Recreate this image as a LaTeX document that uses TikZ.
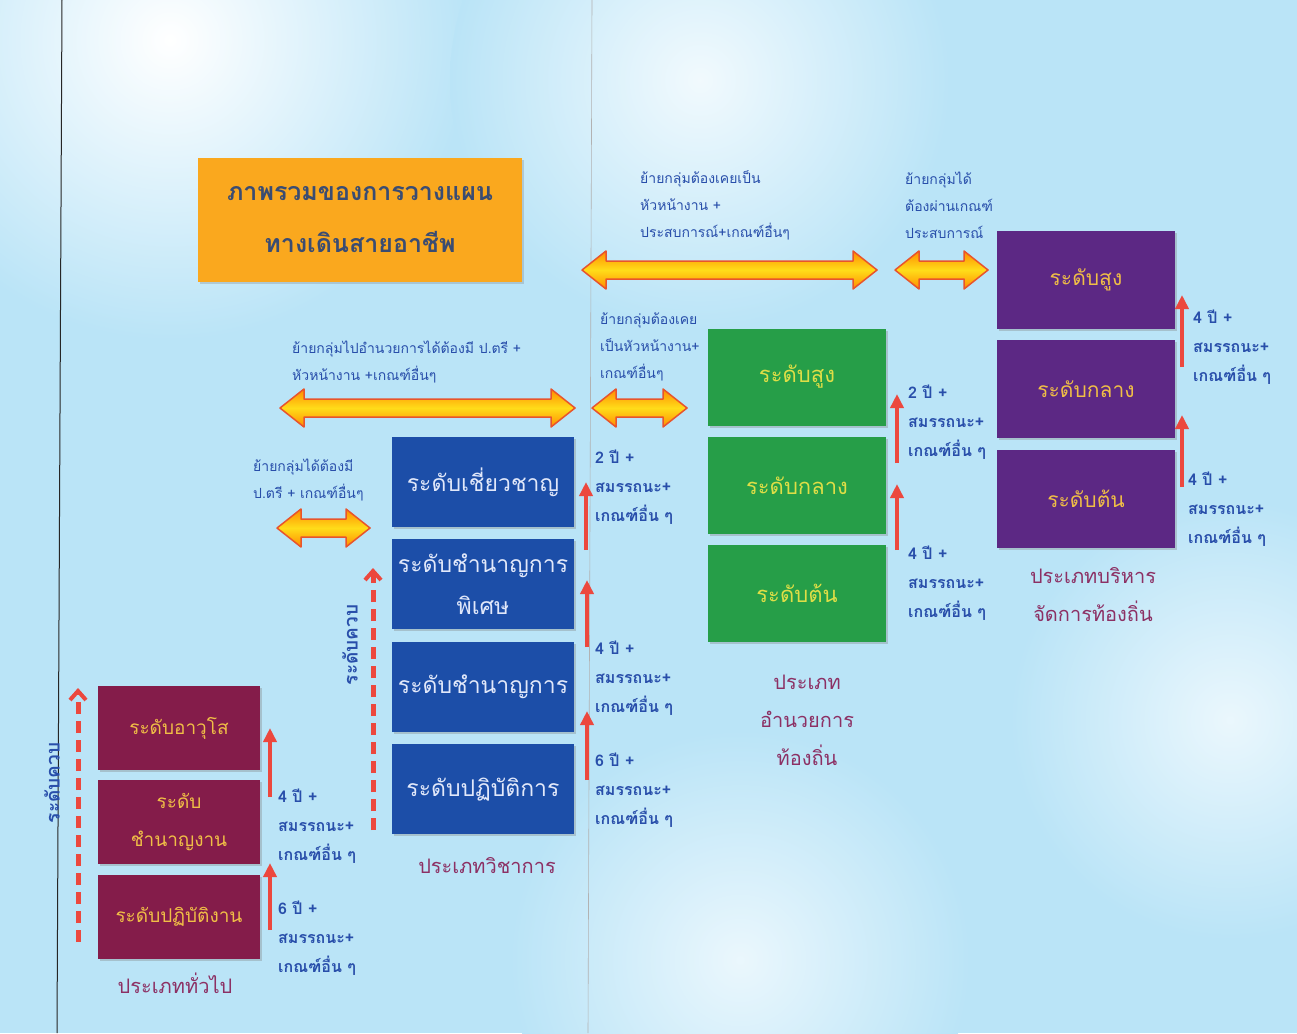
\documentclass[tikz,border=0pt]{standalone}
\usepackage{fontspec}
\setmainfont[Script=Thai]{Loma}
\usepackage{xcolor}
\usetikzlibrary{arrows.meta}
\usetikzlibrary{positioning}
\usetikzlibrary{shadows}

\definecolor{bgblue}{RGB}{186,228,247}
\definecolor{maroonbox}{RGB}{132,28,74}
\definecolor{bluebox}{RGB}{28,78,168}
\definecolor{greenbox}{RGB}{38,158,72}
\definecolor{purplebox}{RGB}{92,40,132}
\definecolor{goldtext}{RGB}{240,190,70}
\definecolor{yellowtext}{RGB}{222,222,70}
\definecolor{paletext}{RGB}{225,232,250}
\definecolor{labelblue}{RGB}{40,78,170}
\definecolor{typecolor}{RGB}{140,48,100}
\definecolor{titletext}{RGB}{58,76,114}
\definecolor{titlebox}{RGB}{250,168,30}
\definecolor{stepred}{RGB}{236,72,62}
\definecolor{fatedge}{RGB}{232,84,44}

% fat double arrow: left x, right x, height
\newcommand{\fatarrow}[3]{%
  \draw[fatstyle] (#1,#3) -- (#1+24,#3-19) -- (#1+24,#3-9) -- (#2-24,#3-9) -- (#2-24,#3-19) -- (#2,#3)
    -- (#2-24,#3+19) -- (#2-24,#3+9) -- (#1+24,#3+9) -- (#1+24,#3+19) -- cycle;}

\begin{document}
\begin{tikzpicture}[x=1pt, y=-1pt,
  levelbox/.style={align=center, inner sep=2pt,
    drop shadow={shadow xshift=2pt, shadow yshift=-2pt, opacity=0.35}},
  genbox/.style={levelbox, fill=maroonbox, text=goldtext, minimum width=162pt, minimum height=84pt,
    font=\fontsize{19}{38}\selectfont},
  acbox/.style={levelbox, fill=bluebox, text=paletext, minimum width=182pt, minimum height=90pt,
    font=\fontsize{23}{42}\selectfont},
  dirbox/.style={levelbox, fill=greenbox, text=yellowtext, minimum width=178pt, minimum height=97pt,
    font=\fontsize{22}{38}\selectfont},
  mgrbox/.style={levelbox, fill=purplebox, text=goldtext, minimum width=178pt, minimum height=98pt,
    font=\fontsize{21}{38}\selectfont},
  titlestyle/.style={fill=titlebox, minimum width=324pt, minimum height=124pt, align=center,
    text=titletext, font=\bfseries\fontsize{25}{52}\selectfont,
    drop shadow={shadow xshift=2pt, shadow yshift=-2pt, opacity=0.3}},
  movetext/.style={anchor=west, align=left, text=labelblue, inner sep=0pt,
    font=\fontsize{14}{27}\selectfont},
  steptext/.style={anchor=west, align=left, text=labelblue, inner sep=0pt,
    font=\bfseries\fontsize{16}{29}\selectfont},
  typetext/.style={align=center, text=typecolor, font=\fontsize{20}{38}\selectfont},
  dualtext/.style={rotate=90, text=labelblue, font=\bfseries\fontsize{19}{20}\selectfont},
  steparrow/.style={-{Triangle[length=14pt,width=13pt]}, line width=4pt, stepred},
  dualarrow/.style={-{Straight Barb[length=9pt,width=16pt,line width=4pt]}, line width=5pt, stepred,
    dash pattern=on 12pt off 7pt},
  fatstyle/.style={draw=fatedge, line width=1.5pt, line join=round,
    top color=orange!90!yellow, bottom color=orange!90!yellow, middle color=yellow!70!orange!90!white}]

% background
\useasboundingbox (0,0) rectangle (1297,1033);
\fill[bgblue] (0,0) rectangle (1297,1033);
\shade[inner color=white, outer color=bgblue] (170,40) circle (300);
\shade[inner color=white!80!bgblue, outer color=bgblue] (700,80) circle (250);
\shade[inner color=white!70!bgblue, outer color=bgblue] (1230,720) circle (220);
\shade[inner color=white!70!bgblue, outer color=bgblue] (740,960) circle (230);
\draw[black!85, line width=1pt] (62,0) -- (57,1033);
\draw[gray!60, line width=0.6pt] (592,0) -- (588,1033);

% title
\node[titlestyle] (title) at (360,220) {ภาพรวมของการวางแผน\\ทางเดินสายอาชีพ};

% general group
\node[genbox] (gen3) at (179,728) {ระดับอาวุโส};
\node[genbox, below=10pt of gen3] (gen2) {ระดับ\\ชำนาญงาน};
\node[genbox, below=10pt of gen2] (gen1) {ระดับปฏิบัติงาน};
\node[typetext] (gentype) at (175,983) {ประเภททั่วไป};

% academic group
\node[acbox] (ac4) at (483,482) {ระดับเชี่ยวชาญ};
\node[acbox, below=12pt of ac4] (ac3) {ระดับชำนาญการ\\พิเศษ};
\node[acbox, below=12pt of ac3] (ac2) {ระดับชำนาญการ};
\node[acbox, below=12pt of ac2] (ac1) {ระดับปฏิบัติการ};
\node[typetext] (actype) at (487,866) {ประเภทวิชาการ};

% director group
\node[dirbox] (dir3) at (797,377) {ระดับสูง};
\node[dirbox, below=11pt of dir3] (dir2) {ระดับกลาง};
\node[dirbox, below=11pt of dir2] (dir1) {ระดับต้น};
\node[typetext] (dirtype) at (807,720) {ประเภท\\อำนวยการ\\ท้องถิ่น};

% manager group
\node[mgrbox] (mgr3) at (1086,280) {ระดับสูง};
\node[mgrbox, below=11pt of mgr3] (mgr2) {ระดับกลาง};
\node[mgrbox, below=11pt of mgr2] (mgr1) {ระดับต้น};
\node[typetext] (mgrtype) at (1093,595) {ประเภทบริหาร\\จัดการท้องถิ่น};

% dual track arrows
\draw[dualarrow] (78,942) coordinate (gdual0) -- (78,688) coordinate (gdual1);
\node[dualtext] (gdualtext) at (52,783) {ระดับควบ};
\draw[dualarrow] (373,830) coordinate (adual0) -- (373,568) coordinate (adual1);
\node[dualtext] (adualtext) at (350,645) {ระดับควบ};

% step arrows
\draw[steparrow] (270,797) coordinate (g2a) -- (270,728) coordinate (g2b);
\draw[steparrow] (270,930) coordinate (g1a) -- (270,863) coordinate (g1b);
\node[steptext] (g2text) at (278,826) {4 ปี +\\สมรรถนะ+\\เกณฑ์อื่น ๆ};
\node[steptext] (g1text) at (278,938) {6 ปี +\\สมรรถนะ+\\เกณฑ์อื่น ๆ};

\draw[steparrow] (586,550) coordinate (a3a) -- (586,482) coordinate (a3b);
\draw[steparrow] (587,647) coordinate (a2a) -- (587,580) coordinate (a2b);
\draw[steparrow] (587,780) coordinate (a1a) -- (587,711) coordinate (a1b);
\node[steptext] (a3text) at (595,487) {2 ปี +\\สมรรถนะ+\\เกณฑ์อื่น ๆ};
\node[steptext] (a2text) at (595,678) {4 ปี +\\สมรรถนะ+\\เกณฑ์อื่น ๆ};
\node[steptext] (a1text) at (595,790) {6 ปี +\\สมรรถนะ+\\เกณฑ์อื่น ๆ};

\draw[steparrow] (897,463) coordinate (d2a) -- (897,394) coordinate (d2b);
\draw[steparrow] (897,550) coordinate (d1a) -- (897,484) coordinate (d1b);
\node[steptext] (d2text) at (908,422) {2 ปี +\\สมรรถนะ+\\เกณฑ์อื่น ๆ};
\node[steptext] (d1text) at (908,583) {4 ปี +\\สมรรถนะ+\\เกณฑ์อื่น ๆ};

\draw[steparrow] (1182,367) coordinate (m2a) -- (1182,295) coordinate (m2b);
\draw[steparrow] (1182,487) coordinate (m1a) -- (1182,415) coordinate (m1b);
\node[steptext] (m2text) at (1193,347) {4 ปี +\\สมรรถนะ+\\เกณฑ์อื่น ๆ};
\node[steptext] (m1text) at (1188,509) {4 ปี +\\สมรรถนะ+\\เกณฑ์อื่น ๆ};

% group moves
\fatarrow{582}{877}{270}
\fatarrow{895}{988}{270}
\fatarrow{280}{575}{408}
\fatarrow{592}{687}{408}
\fatarrow{277}{370}{528}
\node[movetext] (move1) at (640,205) {ย้ายกลุ่มต้องเคยเป็น\\หัวหน้างาน +\\ประสบการณ์+เกณฑ์อื่นๆ};
\node[movetext] (move2) at (905,205) {ย้ายกลุ่มได้\\ต้องผ่านเกณฑ์\\ประสบการณ์};
\node[movetext] (move3) at (292,362) {ย้ายกลุ่มไปอำนวยการได้ต้องมี ป.ตรี +\\หัวหน้างาน +เกณฑ์อื่นๆ};
\node[movetext] (move4) at (600,347) {ย้ายกลุ่มต้องเคย\\เป็นหัวหน้างาน+\\เกณฑ์อื่นๆ};
\node[movetext] (move5) at (253,480) {ย้ายกลุ่มได้ต้องมี\\ป.ตรี + เกณฑ์อื่นๆ};
\end{tikzpicture}
\end{document}
